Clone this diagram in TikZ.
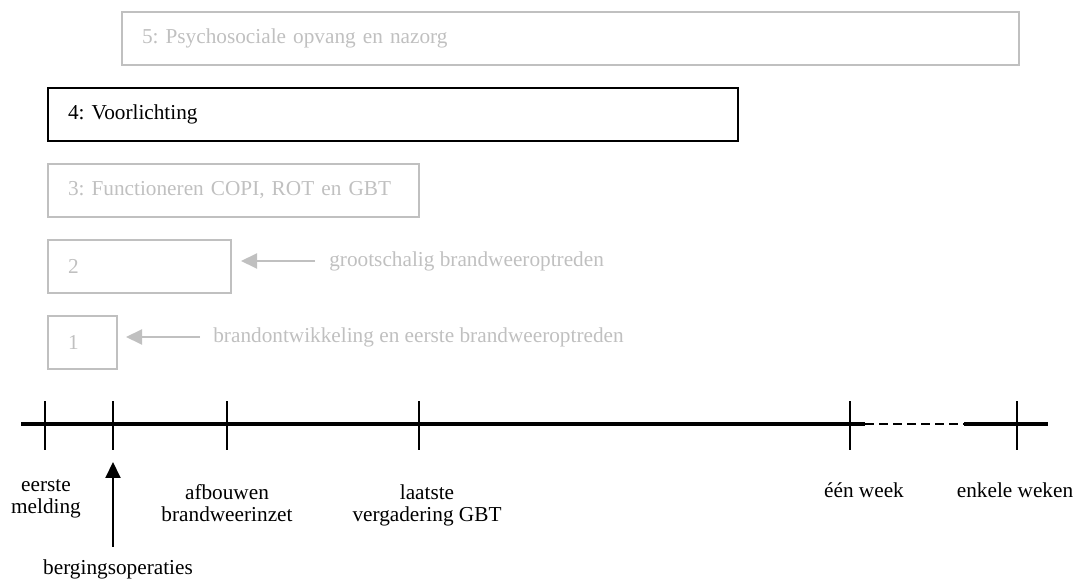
\documentclass[tikz,border=0pt]{standalone}
\usepackage{fontspec}
\setmainfont{Liberation Serif}
\usetikzlibrary{arrows.meta}
\definecolor{lichtgrijs}{RGB}{192,192,192}
\frenchspacing
\tikzset{
  fase/.style={draw=lichtgrijs,text=lichtgrijs,line width=0.4mm,anchor=north west,
    minimum height=10.6mm,inner xsep=4mm,inner ysep=0pt,align=left},
  uitleg/.style={text=lichtgrijs,anchor=west,inner sep=0pt},
  grijspijl/.style={-{Triangle[length=3.2mm,width=3mm]},draw=lichtgrijs,fill=lichtgrijs,line width=0.4mm},
  zwartpijl/.style={-{Triangle[length=3.2mm,width=3mm]},line width=0.4mm},
  moment/.style={anchor=base,inner sep=0pt,align=center},
}
\begin{document}
\begin{tikzpicture}[x=0.2mm,y=-0.2mm,font=\fontsize{12.1}{12.6}\selectfont]
	\useasboundingbox (0,0) rectangle (1082,583);
	% fasen
	\node[fase,text width=171.4mm] (fase5) at (121,11) {5: Psychosociale opvang en nazorg};
	\node[fase,draw=black,text=black,text width=130mm] (fase4) at (47,87) {4: Voorlichting};
	\node[fase,text width=66.2mm] (fase3) at (47,163) {\mbox{3: Functioneren COPI, ROT en GBT}};
	\node[fase,text width=28.6mm] (fase2) at (47,239) {2};
	\node[fase,text width=5.8mm] (fase1) at (47,315) {1};
	% uitleg bij fase 1 en 2
	\node[uitleg] (uitleg2) at (329,261) {grootschalig brandweeroptreden};
	\node[uitleg] (uitleg1) at (213,337) {brandontwikkeling en eerste brandweeroptreden};
	\draw[grijspijl] ([xshift=-2.8mm]uitleg2.west) -- ([xshift=1.8mm]uitleg2.west -| fase2.east);
	\draw[grijspijl] ([xshift=-2.6mm]uitleg1.west) -- ([xshift=1.6mm]uitleg1.west -| fase1.east);
	% tijdlijn
	\coordinate (begin) at (21,424);
	\coordinate (eind) at (1048,424);
	\coordinate (stippelA) at (865,424);
	\coordinate (stippelB) at (964,424);
	\coordinate (t1) at (45,424);
	\coordinate (t2) at (113,424);
	\coordinate (t3) at (227,424);
	\coordinate (t4) at (419,424);
	\coordinate (t5) at (850,424);
	\coordinate (t6) at (1017,424);
	\draw[line width=0.65mm] (begin) -- (stippelA);
	\draw[line width=0.4mm,dash pattern=on 1.8mm off 1mm] (stippelA) -- (stippelB);
	\draw[line width=0.65mm] (stippelB) -- (eind);
	\foreach \i in {1,...,6}
		\draw[line width=0.4mm] ([yshift=4.5mm]t\i) -- ([yshift=-5.2mm]t\i);
	% momenten
	\node[moment] (melding) at (46,514) {eerste\\melding};
	\node[moment] (afbouwen) at (227,522) {afbouwen\\brandweerinzet};
	\node[moment] (vergadering) at (427,522) {laatste\\vergadering GBT};
	\node[moment] (week) at (864,498) {één week};
	\node[moment] (weken) at (1015,498) {enkele weken};
	\node[moment] (berging) at (118,575) {bergingsoperaties};
	\draw[zwartpijl] ([yshift=2.6mm]t2 |- berging.north) -- ([yshift=-7.6mm]t2);
\end{tikzpicture}
\end{document}
